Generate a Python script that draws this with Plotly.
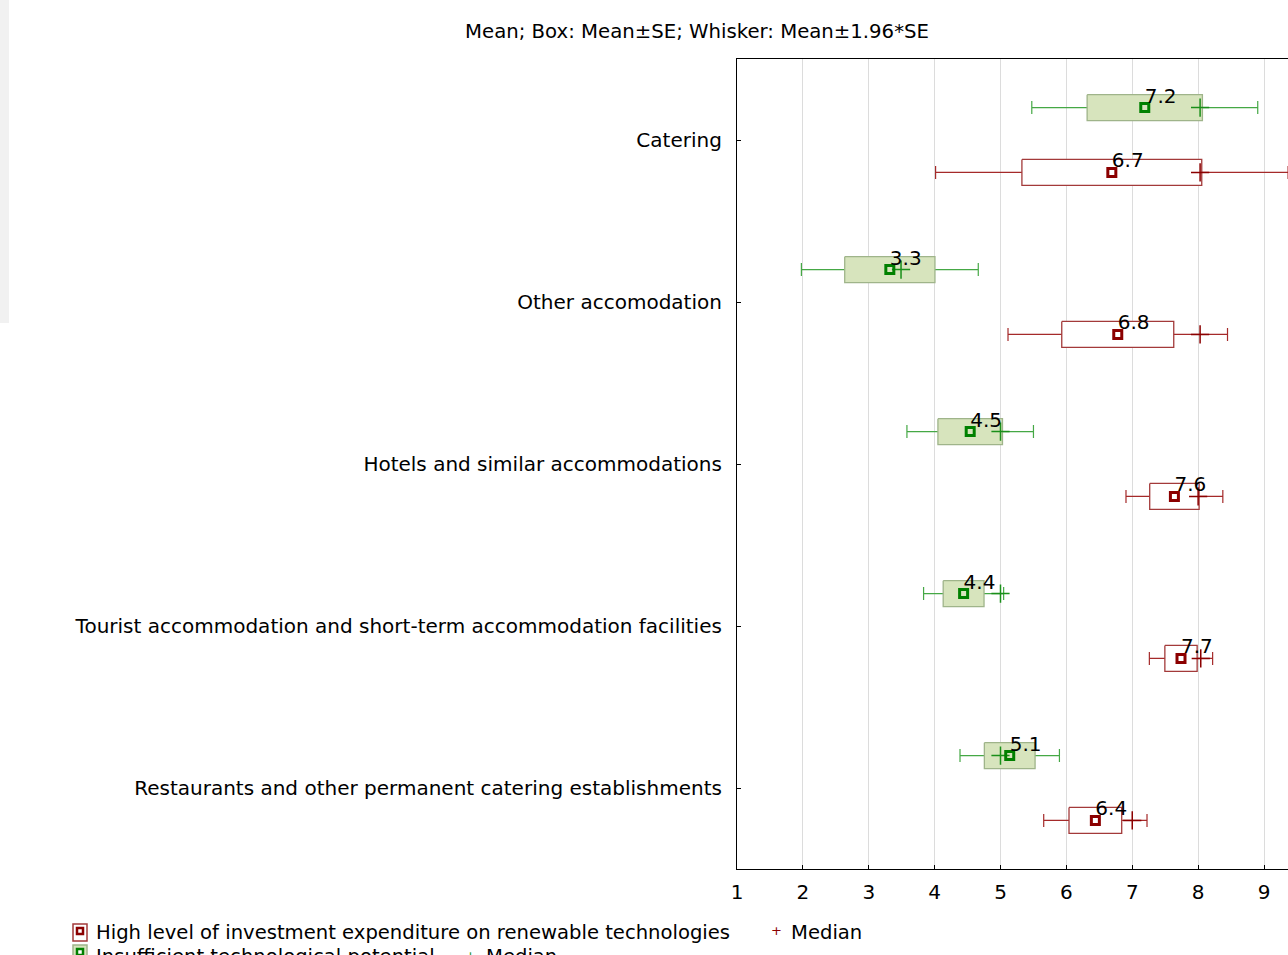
import plotly.graph_objects as go

# ---------------- data ----------------
categories = [
    "Catering",
    "Other accomodation",
    "Hotels and similar accommodations",
    "Tourist accommodation and short-term accommodation facilities",
    "Restaurants and other permanent catering establishments",
]
# Insufficient technological potential (green)
mean_g = [7.19, 3.32, 4.54, 4.44, 5.14]
se_g = [0.875, 0.685, 0.49, 0.31, 0.385]
median_g = [8.03, 3.49, 5.00, 5.00, 5.00]
# High level of investment expenditure on renewable technologies (red)
mean_r = [6.69, 6.78, 7.64, 7.74, 6.44]
se_r = [1.365, 0.85, 0.375, 0.245, 0.40]
median_r = [8.03, 8.03, 8.00, 8.04, 7.00]
x_ticks = [1, 2, 3, 4, 5, 6, 7, 8, 9]

title_text = "Mean; Box: Mean±SE; Whisker: Mean±1.96*SE"
name_r = "High level of investment expenditure on renewable technologies"
name_g = "Insufficient technological potential"

# ---------------- layout constants ----------------
W, H = 1288, 955
L, T, B = 737, 59, 86
PW, PH = W - L, H - T - B
FONT = "DejaVu Sans, Liberation Sans, Arial, sans-serif"
OFF = 0.2      # vertical offset of each group from the category centre
HB = 0.08      # half box height (axis units)

G_FILL, G_EDGE, G_WHISK, G_MEAN, G_MED = "#d7e4bd", "#9fb48a", "#45a845", "#008000", "#1a8f1a"
R_FILL, R_EDGE, R_WHISK, R_MEAN, R_MED = "#ffffff", "#a33a3a", "#a52a2a", "#8b0000", "#8b0000"

idx = list(range(len(categories)))
y_g = [i - OFF for i in idx]
y_r = [i + OFF for i in idx]


def box_poly(means, ses, ys):
    xs, yy = [], []
    for m, s, y in zip(means, ses, ys):
        lo, hi = m - s, m + s
        xs += [lo, hi, hi, lo, lo, None]
        yy += [y - HB, y - HB, y + HB, y + HB, y - HB, None]
    return xs, yy


fig = go.Figure()

for means, ses, meds, ys, fill, edge, wc, mc, medc in [
    (mean_g, se_g, median_g, y_g, G_FILL, G_EDGE, G_WHISK, G_MEAN, G_MED),
    (mean_r, se_r, median_r, y_r, R_FILL, R_EDGE, R_WHISK, R_MEAN, R_MED),
]:
    # whiskers (mean ± 1.96*SE)
    fig.add_trace(go.Scatter(
        x=means, y=ys, mode="markers",
        marker=dict(size=1, color="rgba(0,0,0,0)"),
        error_x=dict(type="data", array=[1.96 * s for s in ses], width=6.5,
                     thickness=1.2, color=wc),
        showlegend=False, hoverinfo="skip"))
    # boxes (mean ± SE)
    bx, byy = box_poly(means, ses, ys)
    fig.add_trace(go.Scatter(
        x=bx, y=byy, mode="lines", fill="toself", fillcolor=fill,
        line=dict(color=edge, width=1.3), showlegend=False, hoverinfo="skip"))
    # medians
    fig.add_trace(go.Scatter(
        x=meds, y=ys, mode="markers",
        marker=dict(symbol="cross-thin", size=13, line=dict(color=medc, width=1.5)),
        showlegend=False, hoverinfo="skip"))
    # means
    fig.add_trace(go.Scatter(
        x=means, y=ys, mode="markers",
        marker=dict(symbol="square-open", size=8, color=mc, line=dict(color=mc, width=3)),
        showlegend=False, hoverinfo="skip"))
    # mean labels
    fig.add_trace(go.Scatter(
        x=means, y=ys, mode="text", text=[f"{m:.1f}" for m in means],
        textposition="top right", textfont=dict(family=FONT, size=20, color="black"),
        showlegend=False, hoverinfo="skip"))


def px(x):
    return (x - L) / PW


def py(y):
    return (H - B - y) / PH


shapes = [
    # light grey strip at left edge
    dict(type="rect", xref="paper", yref="paper", x0=px(0), x1=px(9), y0=py(323), y1=py(0),
         fillcolor="#f1f1f1", line=dict(width=0), layer="below"),
    # legend icon red
    dict(type="rect", xref="paper", yref="paper", x0=px(73), x1=px(87), y0=py(941), y1=py(924),
         fillcolor="white", line=dict(color=R_EDGE, width=1.5)),
    dict(type="rect", xref="paper", yref="paper", x0=px(77), x1=px(83), y0=py(934), y1=py(928),
         fillcolor="white", line=dict(color=R_MEAN, width=2.5)),
    # legend icon green
    dict(type="rect", xref="paper", yref="paper", x0=px(73), x1=px(87), y0=py(962), y1=py(945),
         fillcolor=G_FILL, line=dict(color=G_EDGE, width=1.5)),
    dict(type="rect", xref="paper", yref="paper", x0=px(77), x1=px(83), y0=py(955), y1=py(949),
         fillcolor="white", line=dict(color=G_MEAN, width=2.5)),
]

ann = []


def text_at(x, y, s, color="black", size=19.6, anchor="left"):
    ann.append(dict(xref="paper", yref="paper", x=px(x), y=py(y), text=s, showarrow=False,
                    xanchor=anchor, yanchor="middle", font=dict(family=FONT, size=size, color=color)))


text_at(94, 932, name_r)
text_at(776, 930, "+", color=R_MED, size=13, anchor="center")
text_at(789, 932, "Median")
text_at(94, 956, name_g)
text_at(470, 955, "+", color=G_MED, size=13, anchor="center")
text_at(484, 956, "Median")

fig.update_layout(
    width=W, height=H,
    margin=dict(l=L, r=0, t=T, b=B, pad=0),
    paper_bgcolor="white", plot_bgcolor="white",
    font=dict(family=FONT, size=20, color="black"),
    title=dict(text=title_text, xref="container", yref="container",
               x=697 / W, y=1 - 31 / H, xanchor="center", yanchor="middle",
               font=dict(family=FONT, size=19.7, color="black")),
    xaxis=dict(range=[1, 1 + PW / 65.875], tickvals=x_ticks, ticktext=[str(t) for t in x_ticks],
               showgrid=True, gridcolor="#dcdcdc", gridwidth=1, zeroline=False,
               showline=True, linecolor="black", linewidth=1.2, mirror=True,
               ticks="inside", ticklen=4, tickcolor="black",
               ticklabelstandoff=5, tickfont=dict(family=FONT, size=20)),
    yaxis=dict(range=[4.5, -0.5], tickvals=idx, ticktext=categories,
               showgrid=False, zeroline=False, showline=True, linecolor="black", linewidth=1.2,
               ticks="inside", ticklen=4, tickcolor="black", ticklabelstandoff=10,
               tickfont=dict(family=FONT, size=20)),
    shapes=shapes, annotations=ann,
)

fig.write_html(
    "out.html",
    config={"displayModeBar": False},
    post_script="document.body.style.margin='0';document.body.style.overflow='hidden';",
)
